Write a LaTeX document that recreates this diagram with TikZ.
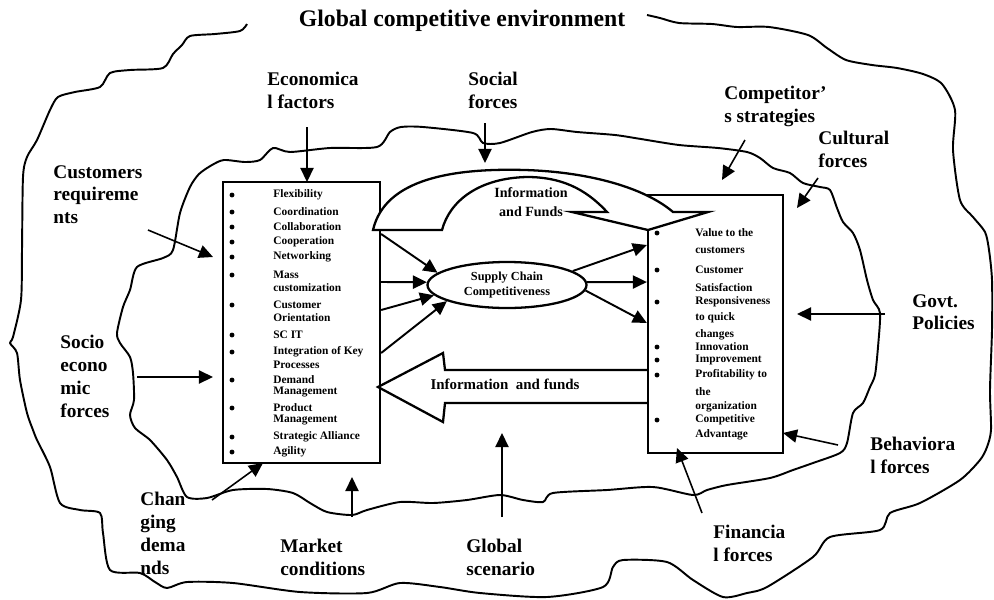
\documentclass[tikz,border=0pt]{standalone}
\usepackage{fontspec}
\setmainfont{Liberation Serif}
\usetikzlibrary{arrows.meta,shapes.geometric}

\begin{document}
\begin{tikzpicture}[x=0.02cm,y=-0.02cm]
\def\px{0.02cm}
\tikzset{
	cloud line/.style={line width=1.1pt, line join=round},
	force label/.style={font=\fontsize{11}{13}\selectfont\bfseries, align=left, anchor=north west, inner sep=0pt},
	force/.style={line width=0.9pt, -{Triangle[length=8pt,width=7.5pt]}},
	flow/.style={line width=1.1pt, -{Triangle[length=8pt,width=7.5pt]}},
	list box/.style={draw, line width=1.3pt, inner sep=0pt},
	list item/.style={font=\fontsize{6.5}{7.5}\selectfont\bfseries, anchor=west, inner sep=0pt},
	block arrow/.style={draw, line width=1.3pt, fill=white, line join=miter}
}
\useasboundingbox (0,0) rectangle (994,599);

% outer cloud, open at the title
\draw[cloud line] plot[smooth, tension=0.45] coordinates {
	(247,24) (240,31) (215,34) (190,36) (182,45) (173,54) (163,68) (130,70)
	(110,73) (100,87) (75,92) (58,97) (50,110) (37,140) (27,157) (23,177)
	(22,250) (21,300) (13,337) (10,343) (17,353) (20,380) (27,413) (33,430)
	(37,440) (50,467) (60,503) (80,510) (100,513) (103,533) (110,570) (140,573)
	(155,582) (167,588) (187,582) (233,583) (300,592) (367,593) (400,583) (440,587)
	(480,593) (547,597) (603,587) (613,567) (623,560) (667,562) (693,580) (723,597)
	(747,593) (767,587) (813,557) (830,537) (880,530) (890,513) (920,503) (960,480)
	(980,460) (987,447) (991,430) (990,390) (992,330) (992,280) (989,250) (985,232)
	(973,217) (960,200) (953,150) (955,110) (942,84) (923,74) (897,68) (872,65)
	(846,60) (827,48) (808,35) (769,27) (737,27) (712,24) (679,23) (660,18) (647,15)};
% inner cloud
\draw[cloud line] plot[smooth cycle, tension=0.45] coordinates {
	(190,187) (199,174) (212,165) (224,160) (245,162) (260,160) (273,148) (290,152)
	(330,148) (377,147) (390,132) (401,127) (423,127) (473,133) (483,143) (500,143)
	(532,132) (551,129) (577,132) (615,135) (641,139) (679,145) (718,148) (747,152)
	(760,158) (773,168) (790,173) (803,183) (820,187) (830,190) (837,208) (843,222)
	(853,233) (860,250) (867,280) (873,300) (880,313) (878,347) (875,375) (870,387)
	(863,403) (853,413) (847,443) (840,453) (813,463) (793,470) (770,478) (727,485)
	(707,490) (693,495) (653,487) (607,490) (553,493) (543,502) (523,500) (500,495)
	(467,500) (433,503) (400,502) (367,510) (352,515) (327,512) (310,503) (293,493)
	(267,489) (233,490) (207,498) (187,497) (177,477) (167,460) (150,440) (135,428)
	(130,415) (134,400) (133,373) (130,357) (120,343) (117,333) (123,307) (130,290)
	(137,267) (163,258) (173,250) (180,213)};

\node[font=\fontsize{13.5}{15}\selectfont\bfseries, inner sep=0pt] (title) at (462,21) {Global competitive environment};

% the two lists
\node[list box, minimum width=157*\px, minimum height=281*\px] (lbox) at (301.5,322.5) {};
\node[list box, minimum width=135*\px, minimum height=258*\px] (rbox) at (715.5,324) {};

\foreach \yy/\txt [count=\i] in {195/Flexibility, 212/Coordination, 227/Collaboration,
	242/Cooperation, 257/Networking, 275/Mass, 288/customization, 305/Customer,
	318/Orientation, 335/SC IT, 352/Integration of Key, 365/Processes, 380/Demand,
	392/Management, 408/Product, 420/Management, 437/Strategic Alliance, 452/Agility}
{
	\node[list item] (l\i) at (273,\yy) {\txt};
}
\foreach \yy in {195,212,227,242,257,275,305,335,352,380,408,437,452}
	\fill (232,\yy) circle[radius=1.4pt];

\foreach \yy/\txt [count=\i] in {233/Value to the, 250/customers, 270/Customer,
	288/Satisfaction, 302/Responsiveness, 318/to quick, 335/changes, 347/Innovation,
	360/Improvement, 375/Profitability to, 392/the, 407/organization,
	420/Competitive, 435/Advantage}
{
	\node[list item] (r\i) at (695,\yy) {\txt};
}
\foreach \yy in {233,270,302,347,360,375,420}
	\fill (657,\yy) circle[radius=1.4pt];

% information and funds back to the left list
\draw[block arrow] (rbox.west |- 0,370) -- (445,370) -- (443,353) -- (378,387)
	-- (443,422) -- (445,403) -- (rbox.west |- 0,403);
\node[font=\fontsize{8.5}{10}\selectfont\bfseries, inner sep=0pt] (infodown) at (505,384) {Information\ \ and funds};

% curved arrow over the top
\draw[block arrow] (373,230) .. controls (385,178) and (455,168) .. (525,170)
	.. controls (590,172) and (645,188) .. (673,212) -- (708,212) -- (648,230)
	-- (572,212) -- (607,212) .. controls (585,188) and (560,177) .. (527,177)
	.. controls (480,178) and (450,200) .. (442,230) -- cycle;
\node[font=\fontsize{8}{10.5}\selectfont\bfseries, align=center, inner sep=0pt] (infoup) at (531,202) {Information\\and Funds};

\node[draw, ellipse, line width=1.3pt, minimum width=159*\px, minimum height=46*\px, inner sep=0pt,
	font=\fontsize{7}{8.5}\selectfont\bfseries, align=center] (scc) at (507,285) {Supply Chain\\Competitiveness};

\foreach \yy/\ang in {234/170, 282/178, 310/188, 353/195}
	\draw[flow] (lbox.east |- 0,\yy) -- (scc.\ang);
\foreach \ang/\yy in {12/245, 2/282, 356/323}
	\draw[flow] (scc.\ang) -- (rbox.west |- 0,\yy);

% forces from the environment
\node[force label] (econ) at (267,72) {Economica\\l factors};
\node[force label] (social) at (468,72) {Social\\forces};
\node[force label] (competitor) at (724,86) {Competitor'\\s strategies};
\node[force label] (cultural) at (818,131) {Cultural\\forces};
\node[force label] (customers) at (53,165) {Customers\\requireme\\nts};
\node[force label] (socio) at (60,335) {Socio\\econo\\mic\\forces};
\node[force label] (govt) at (912,294) {Govt.\\Policies};
\node[force label] (behav) at (870,437) {Behaviora\\l forces};
\node[force label] (finance) at (713,525) {Financia\\l forces};
\node[force label] (global) at (466,539) {Global\\scenario};
\node[force label] (market) at (280,539) {Market\\conditions};
\node[force label] (changing) at (140,492) {Chan\\ging\\dema\\nds};

\foreach \tx/\ty/\hx/\hy [count=\i] in {307/127/307/182, 485/123/485/163,
	745/140/722/180, 818/178/797/208, 148/230/213/257, 137/377/213/377,
	885/314/797/314, 838/445/783/433, 702/513/677/448, 502/517/502/433,
	352/517/352/477, 212/500/263/463}
{
	\coordinate (ft\i) at (\tx,\ty);
	\coordinate (fh\i) at (\hx,\hy);
	\draw[force] (ft\i) -- (fh\i);
}
\end{tikzpicture}
\end{document}
